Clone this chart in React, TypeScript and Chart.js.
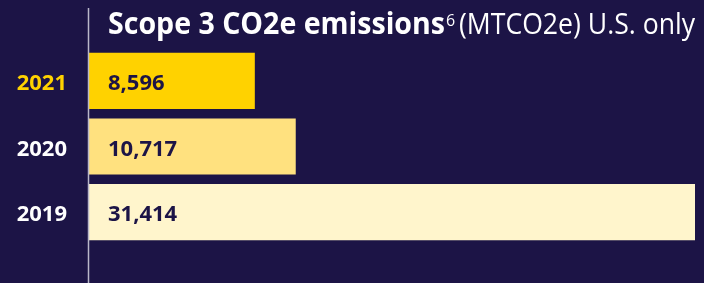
import React, { useEffect, useRef } from "react";
import { Chart, registerables } from "chart.js";

Chart.register(...registerables);

const years = ["2021", "2020", "2019"];
const emissions = [8596, 10717, 31414];
const barColors = ["#FFD200", "#FFE17F", "#FFF5CC"];
const tickColors = ["#FFD200", "#FFFFFF", "#FFFFFF"];
const titleBold = "Scope 3 CO2e emissions";
const titleSup = "6";
const titleRegular = "(MTCO2e) U.S. only";

const BG = "#1C1446";
const NAVY = "#1C1446";

const fmt = (v: number) => v.toLocaleString("en-US");

const drawFitted = (ctx: CanvasRenderingContext2D, text: string, x: number, y: number, width: number) => {
  const m = ctx.measureText(text).width;
  ctx.save();
  ctx.translate(x, y);
  ctx.scale(width / m, 1);
  ctx.fillText(text, 0, 0);
  ctx.restore();
};

const decorPlugin = {
  id: "decor",
  beforeDraw(chart: any) {
    const { ctx, width, height } = chart;
    ctx.save();
    ctx.fillStyle = BG;
    ctx.fillRect(0, 0, width, height);
    ctx.restore();
  },
  afterDatasetsDraw(chart: any) {
    const { ctx, chartArea } = chart;
    ctx.save();
    // axis line
    ctx.strokeStyle = "#B9B7C9";
    ctx.lineWidth = 1.5;
    ctx.beginPath();
    ctx.moveTo(chartArea.left - 0.5, 8);
    ctx.lineTo(chartArea.left - 0.5, chart.height);
    ctx.stroke();
    // value labels
    const meta = chart.getDatasetMeta(0);
    ctx.fillStyle = NAVY;
    ctx.font = "bold 22px 'Open Sans'";
    ctx.textBaseline = "alphabetic";
    ctx.textAlign = "left";
    meta.data.forEach((bar: any, i: number) => {
      ctx.fillText(fmt(emissions[i]), chartArea.left + 19, bar.y + 9);
    });
    // title
    ctx.fillStyle = "#FFFFFF";
    ctx.font = "bold 31px 'Open Sans'";
    drawFitted(ctx, titleBold, 108, 34, 337);
    ctx.font = "16px 'Open Sans'";
    ctx.fillText(titleSup, 446, 26);
    ctx.font = "30px 'Open Sans'";
    drawFitted(ctx, titleRegular, 459, 34, 236);
    ctx.restore();
  },
};

export default function App() {
  const ref = useRef<HTMLCanvasElement>(null);
  useEffect(() => {
    document.body.style.margin = "0";
    const chart = new Chart(ref.current!, {
      type: "bar",
      data: {
        labels: years,
        datasets: [
          {
            data: emissions,
            backgroundColor: barColors,
            borderWidth: 0,
            categoryPercentage: 1,
            barPercentage: 0.855,
          },
        ],
      },
      options: {
        indexAxis: "y",
        animation: false,
        responsive: true,
        maintainAspectRatio: false,
        layout: { padding: { top: 48, bottom: 38, left: 0, right: 9 } },
        plugins: { legend: { display: false }, tooltip: { enabled: false } },
        scales: {
          x: { display: false, min: 0, max: 31414 },
          y: {
            grid: { display: false, drawTicks: false },
            border: { display: false },
            afterFit: (scale: any) => {
              scale.width = 89;
            },
            ticks: {
              padding: 22,
              labelOffset: 3,
              color: (c: any) => tickColors[c.index],
              font: { family: "'Open Sans'", weight: "bold", size: 22 },
            },
          },
        },
      },
      plugins: [decorPlugin],
    });
    return () => chart.destroy();
  }, []);
  return (
    <div style={{ position: "fixed", left: 0, top: 0, width: 704, height: 283, background: BG }}>
      <canvas ref={ref} />
    </div>
  );
}
